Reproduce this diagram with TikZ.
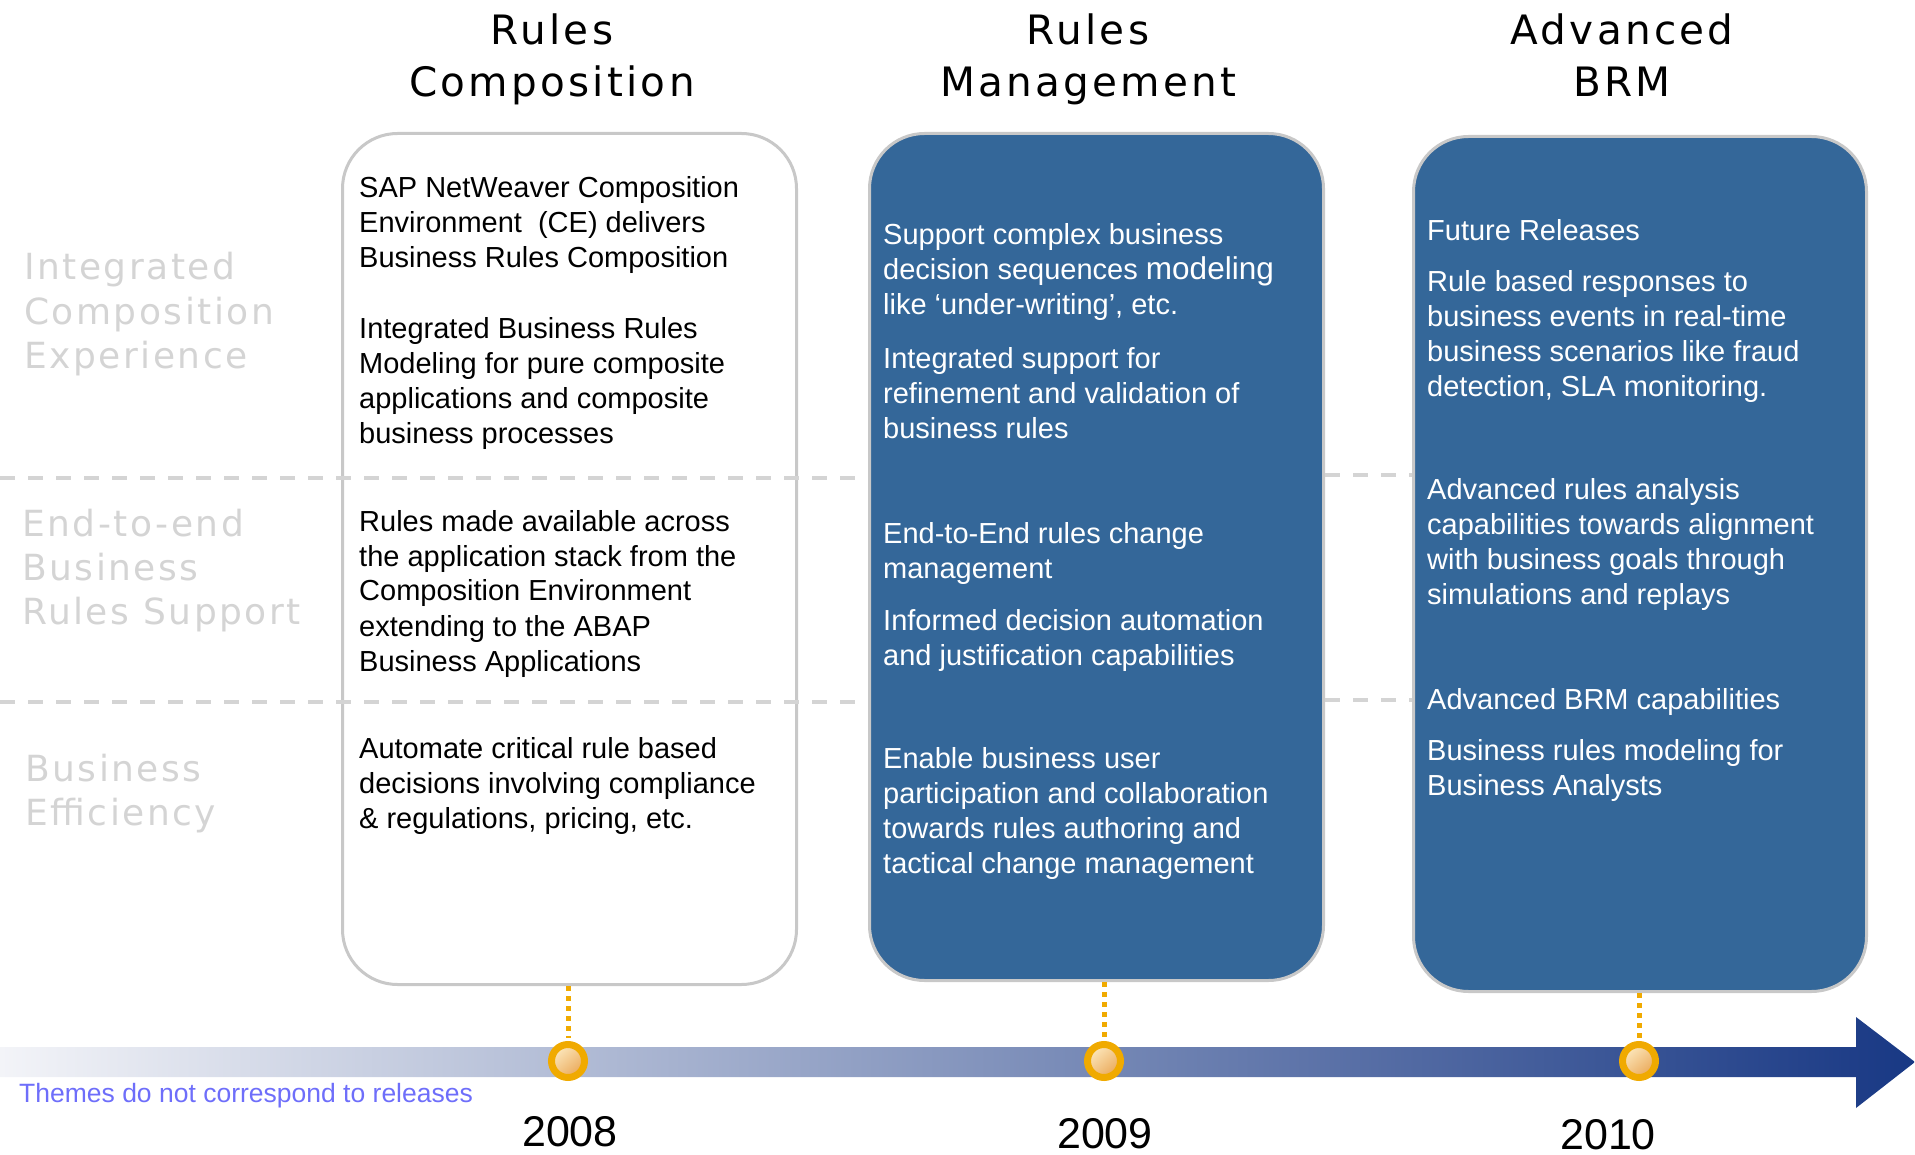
\documentclass[tikz,border=0pt]{standalone}
\usepackage{fontspec}
\setmainfont{Liberation Sans}
\newfontfamily\headfont[LetterSpace=8]{DejaVu Sans}
\newfontfamily\sidefont[LetterSpace=7]{DejaVu Sans}
\usepackage{tikz}
\definecolor{cardblue}{RGB}{52,103,153}
\definecolor{cardline}{RGB}{200,200,200}
\definecolor{sidegray}{RGB}{212,212,212}
\definecolor{knobring}{RGB}{240,170,0}
\definecolor{knobhi}{RGB}{252,232,190}
\definecolor{knoblo}{RGB}{234,168,88}
\definecolor{barlight}{RGB}{243,244,248}
\definecolor{barmid}{RGB}{180,180,198}
\definecolor{bardark}{RGB}{24,56,132}
\definecolor{themeblue}{RGB}{110,110,250}
\newcommand{\stack}[1]{\begin{tabular}[t]{@{}l@{}}#1\end{tabular}}
\newcommand{\cstack}[1]{\begin{tabular}[t]{@{}c@{}}#1\end{tabular}}

\begin{document}
\begin{tikzpicture}[x=1pt, y=-1pt,
      card/.style={draw=cardline, line width=3pt, rounded corners=55pt,
        anchor=north west, inner sep=0pt},
      item/.style={anchor=base west, inner sep=0pt, font=\fontsize{29}{35}\selectfont},
      lite/.style={item, text=white},
      head/.style={anchor=base, inner sep=0pt, font=\headfont\fontsize{40.5}{52}\selectfont},
      theme/.style={anchor=base west, inner sep=0pt, text=sidegray,
        font=\sidefont\fontsize{36}{44.5}\selectfont},
      rowline/.style={draw=sidegray, line width=4pt, dash pattern=on 15pt off 13pt},
      stem/.style={draw=knobring, line width=5pt, dash pattern=on 5pt off 5pt, shorten >=3pt},
      knob/.style={circle, draw=knobring, line width=7pt, minimum size=33pt, inner sep=0pt,
        top color=knobhi, bottom color=knoblo, shading angle=40},
      year/.style={anchor=base, inner sep=0pt, font=\fontsize{43}{43}\selectfont}
      ]
      \useasboundingbox (0,0) rectangle (1915,1155);

      % headings
      \node[head] (hcomp) at (552,45) {\cstack{Rules\\Composition}};
      \node[head] (hmgmt) at (1088,45) {\cstack{Rules\\Management}};
      \node[head] (hbrm) at (1622,45) {\cstack{Advanced\\BRM}};

      % themes on the left
      \node[theme] (tint) at (24,280) {\stack{Integrated\\Composition\\Experience}};
      \node[theme] (tend) at (22,536) {\stack{End-to-end\\Business\\Rules Support}};
      \node[theme] (teff) at (25,781) {\stack{Business\\Efficiency}};

      % cards
      \node[card, fill=white, minimum width=454pt, minimum height=851pt] (comp) at (341,132) {};
      \node[card, fill=cardblue, minimum width=454pt, minimum height=847pt] (mgmt) at (868,132) {};
      \node[card, fill=cardblue, minimum width=453pt, minimum height=855pt] (brm) at (1412,135) {};

      % theme separators
      \draw[rowline] (0,478) -- (860,478);
      \draw[rowline] (0,702) -- (860,702);
      \draw[rowline] (mgmt.east |- 0,475) -- (brm.west |- 0,475);
      \draw[rowline] (mgmt.east |- 0,700) -- (brm.west |- 0,700);

      \node[item] (comp1) at (359,198) {\stack{SAP NetWeaver Composition\\Environment\ \ (CE) delivers\\Business Rules Composition}};
      \node[item] (comp2) at (359,339) {\stack{Integrated Business Rules\\Modeling for pure composite\\applications and composite\\business processes}};
      \node[item] (comp3) at (359,531) {\stack{Rules made available across\\the application stack from the\\Composition Environment\\extending to the ABAP\\Business Applications}};
      \node[item] (comp4) at (359,758) {\stack{Automate critical rule based\\decisions involving compliance\\\& regulations, pricing, etc.}};

      \node[lite] (mgmt1) at (883,245) {\stack{Support complex business\\decision sequences {\fontsize{31.5}{35}\selectfont modeling}\\like ‘under-writing’, etc.}};
      \node[lite] (mgmt2) at (883,369) {\stack{Integrated support for\\refinement and validation of\\business rules}};
      \node[lite] (mgmt3) at (883,543) {\stack{End-to-End rules change\\management}};
      \node[lite] (mgmt4) at (883,630) {\stack{Informed decision automation\\and justification capabilities}};
      \node[lite] (mgmt5) at (883,768) {\stack{Enable business user\\participation and collaboration\\towards rules authoring and\\tactical change management}};

      \node[lite] (brm1) at (1427,241) {Future Releases};
      \node[lite] (brm2) at (1427,292) {\stack{Rule based responses to\\business events in real-time\\business scenarios like fraud\\detection, SLA monitoring.}};
      \node[lite] (brm3) at (1427,500) {\stack{Advanced rules analysis\\capabilities towards alignment\\with business goals through\\simulations and replays}};
      \node[lite] (brm4) at (1427,709) {Advanced BRM capabilities};
      \node[lite] (brm5) at (1427,760) {\stack{Business rules modeling for\\Business Analysts}};

      % time line
      \shade[left color=barlight, middle color=barmid, right color=bardark]
        (0,1047) -- (1856,1047) -- (1856,1017) -- (1915,1062)
        -- (1856,1108) -- (1856,1077) -- (0,1077) -- cycle;
      \node[knob] (k08) at (568,1061) {};
      \node[knob] (k09) at (1104,1061) {};
      \node[knob] (k10) at (1639,1061) {};
      \draw[stem] (comp.south -| k08) -- (k08);
      \draw[stem] (mgmt.south -| k09) -- (k09);
      \draw[stem] (brm.south -| k10) -- (k10);

      \node[anchor=base west, inner sep=0pt, text=themeblue, font=\fontsize{26.5}{30}\selectfont]
        (note) at (19,1102) {Themes do not correspond to releases};
      \node[year] (y08) at (570,1146) {2008};
      \node[year] (y09) at (1105,1148) {2009};
      \node[year] (y10) at (1608,1149) {2010};
    \end{tikzpicture}
\end{document}
